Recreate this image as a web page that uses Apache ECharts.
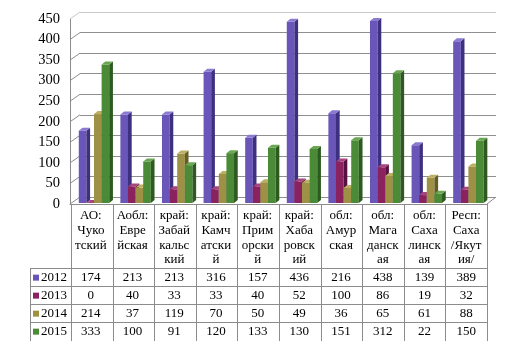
<!DOCTYPE html>
<html>
<head>
<meta charset="utf-8">
<script src="https://cdn.jsdelivr.net/npm/echarts@6/dist/echarts.min.js"></script>
<style>
  html, body { margin: 0; padding: 0; background: #fff; }
  #main { width: 505px; height: 351px; }
</style>
</head>
<body>
<div id="main"></div>
<script>
// категории (заголовки колонок таблицы, по строкам)
const categories = [
  ['АО:', 'Чуко', 'тский'],
  ['Аобл:', 'Евре', 'йская'],
  ['край:', 'Забай', 'кальс', 'кий'],
  ['край:', 'Камч', 'атски', 'й'],
  ['край:', 'Прим', 'орски', 'й'],
  ['край:', 'Хаба', 'ровск', 'ий'],
  ['обл:', 'Амур', 'ская'],
  ['обл:', 'Мага', 'данск', 'ая'],
  ['обл:', 'Саха', 'линск', 'ая'],
  ['Респ:', 'Саха', '/Якут', 'ия/']
]
const years = ['2012', '2013', '2014', '2015']
const v2012 = [174, 213, 213, 316, 157, 436, 216, 438, 139, 389]
const v2013 = [0, 40, 33, 33, 40, 52, 100, 86, 19, 32]
const v2014 = [214, 37, 119, 70, 50, 49, 36, 65, 61, 88]
const v2015 = [333, 100, 91, 120, 133, 130, 151, 312, 22, 150]
const yTicks = [0, 50, 100, 150, 200, 250, 300, 350, 400, 450]

const seriesValues = [v2012, v2013, v2014, v2015]
// цвета: лицевая грань, боковая, верхняя
const colors = [
  ['#6a56b8', '#3e3080', '#8a7ad2'],
  ['#8b2260', '#581040', '#a8447e'],
  ['#9e9045', '#665c22', '#bcae62'],
  ['#4b8b38', '#2c5a1f', '#6aa753']
]
const serif = "'Liberation Serif', 'DejaVu Serif', serif"

const chart = echarts.init(document.getElementById('main'), null, { renderer: 'canvas' })

// 3D-столбик
function bar3d(k) {
  return {
    type: 'custom',
    name: years[k],
    xAxisIndex: 2,
    yAxisIndex: 2,
    z: 5,
    data: seriesValues[k].map((v, i) => [i, v]),
    renderItem: (params, api) => {
      const i = api.value(0)
      const base = api.coord([i, 0])
      const top = api.coord([i, api.value(1)])
      const band = api.size([1, 0])[0]
      const bw = band * 0.183
      const x0 = base[0] - band / 2 + band * 0.187 + k * bw
      const dx = 3.7
      const dy = 3
      const yt = top[1]
      const yb = base[1]
      const c = colors[k]
      return {
        type: 'group',
        children: [
          { type: 'rect', shape: { x: x0, y: yt, width: bw, height: yb - yt }, style: { fill: c[0] } },
          { type: 'polygon', shape: { points: [[x0 + bw, yt], [x0 + bw + dx, yt - dy], [x0 + bw + dx, yb - dy], [x0 + bw, yb]] }, style: { fill: c[1] } },
          { type: 'polygon', shape: { points: [[x0, yt], [x0 + dx, yt - dy], [x0 + bw + dx, yt - dy], [x0 + bw, yt]] }, style: { fill: c[2] } }
        ]
      }
    }
  }
}

// диагонали левой стенки и пола
const wallSeries = {
  type: 'custom',
  xAxisIndex: 0,
  yAxisIndex: 0,
  z: 1,
  silent: true,
  data: yTicks.map(t => [0, t]),
  renderItem: (params, api) => {
    const cs = params.coordSys
    const p = api.coord([0, api.value(1)])
    const children = [{
      type: 'line',
      shape: { x1: cs.x, y1: p[1], x2: cs.x + 10, y2: p[1] - 7 },
      style: { stroke: api.value(1) === 450 ? '#c8c8c8' : '#8c8c8c', lineWidth: 1 }
    }]
    if (api.value(1) === 0) {
      children.push({
        type: 'line',
        shape: { x1: cs.x + cs.width, y1: p[1], x2: cs.x + cs.width + 9, y2: p[1] - 7 },
        style: { stroke: '#8c8c8c', lineWidth: 1 }
      })
    }
    return { type: 'group', children }
  }
}

const gridColors = yTicks.map(t => (t === 450 ? '#c8c8c8' : '#8f8f8f'))

chart.setOption({
  backgroundColor: '#fff',
  animation: false,
  grid: [
    { left: 70, right: 18, top: 19, bottom: 147 },
    { left: 80, right: 9, top: 12, bottom: 154 },
    { left: 71, right: 18, top: 16, bottom: 148 }
  ],
  xAxis: [
    {
      gridIndex: 0, type: 'category', data: categories.map(c => c.join('')),
      axisLine: { lineStyle: { color: '#8c8c8c' } },
      axisTick: { show: false }, axisLabel: { show: false }
    },
    { gridIndex: 1, type: 'category', data: categories.map(c => c.join('')), show: false },
    { gridIndex: 2, type: 'category', data: categories.map(c => c.join('')), show: false }
  ],
  yAxis: [
    {
      gridIndex: 0, type: 'value', min: 0, max: 450, interval: 50,
      axisLine: { show: true, lineStyle: { color: '#8c8c8c' } },
      axisTick: { show: false },
      splitLine: { show: false },
      axisLabel: { color: '#000', fontFamily: serif, fontSize: 14.5, margin: 10 }
    },
    {
      gridIndex: 1, type: 'value', min: 0, max: 450, interval: 50,
      axisLine: { show: false }, axisTick: { show: false }, axisLabel: { show: false },
      splitLine: { show: true, lineStyle: { color: gridColors, width: 1 } }
    },
    { gridIndex: 2, type: 'value', min: 0, max: 450, show: false }
  ],
  series: [wallSeries, bar3d(0), bar3d(1), bar3d(2), bar3d(3)]
})

// таблица данных под диаграммой
const xLeft = 71
const xRight = 487
const legLeft = 30
const yHead = 204
const rowTops = [268, 286, 304, 322]
const rowH = 18.3
const yEnd = 341
const lineColor = '#8c8c8c'
const cx = categories.map((c, i) => chart.convertToPixel({ xAxisIndex: 0 }, i))
const band = (xRight - xLeft) / categories.length

const g = []
// вертикальные линии
for (let i = 0; i <= categories.length; i++) {
  const x = Math.round(xLeft + i * band) + 0.5
  g.push({ type: 'line', shape: { x1: x, y1: yHead, x2: x, y2: yEnd }, style: { stroke: lineColor, lineWidth: 1 } })
}
g.push({ type: 'line', shape: { x1: legLeft + 0.5, y1: rowTops[0], x2: legLeft + 0.5, y2: yEnd }, style: { stroke: lineColor, lineWidth: 1 } })
// горизонтальные линии
rowTops.forEach(y => {
  g.push({ type: 'line', shape: { x1: legLeft, y1: y + 0.5, x2: xRight, y2: y + 0.5 }, style: { stroke: lineColor, lineWidth: 1 } })
})
// заголовки
categories.forEach((lines, i) => {
  lines.forEach((t, j) => {
    g.push({
      type: 'text',
      style: {
        text: t, x: cx[i], y: 216 + j * 14.6, fill: '#000',
        font: '13px ' + serif, align: 'center', verticalAlign: 'middle',
        textAlign: 'center', textVerticalAlign: 'middle'
      }
    })
  })
})
// строки с легендой и значениями
years.forEach((yr, k) => {
  const yc = rowTops[k] + rowH / 2 + 0.5
  g.push({ type: 'rect', shape: { x: 33, y: yc - 3, width: 6, height: 6 }, style: { fill: colors[k][0] } })
  g.push({
    type: 'text',
    style: {
      text: yr, x: 41, y: yc, fill: '#000', font: '13px ' + serif,
      align: 'left', verticalAlign: 'middle', textAlign: 'left', textVerticalAlign: 'middle'
    }
  })
  seriesValues[k].forEach((v, i) => {
    g.push({
      type: 'text',
      style: {
        text: String(v), x: cx[i], y: yc, fill: '#000', font: '13px ' + serif,
        align: 'center', verticalAlign: 'middle', textAlign: 'center', textVerticalAlign: 'middle'
      }
    })
  })
})

chart.setOption({ graphic: { elements: g } })
</script>
</body>
</html>
